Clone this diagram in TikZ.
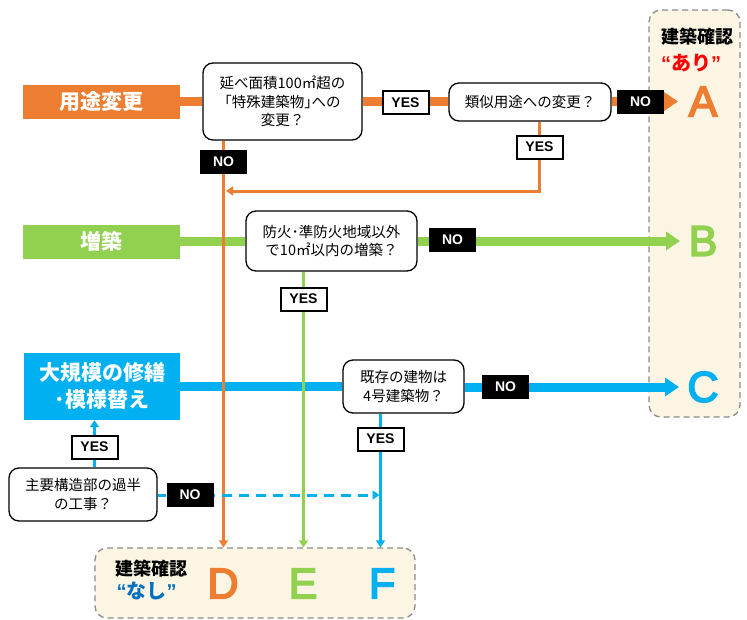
\documentclass[tikz,border=0pt]{standalone}
\usepackage{fontspec}
\setmainfont{Noto Sans CJK JP}
\newfontfamily\arial{Liberation Sans}
\newfontfamily\letfont{Liberation Sans}[FakeBold=4]
\usetikzlibrary{arrows.meta}
\definecolor{corange}{HTML}{ED7D31}
\definecolor{cgreen}{HTML}{92D050}
\definecolor{cblue}{HTML}{00B0F0}
\definecolor{cdblue}{HTML}{0070C0}
\definecolor{cream}{HTML}{FDF5E3}
\definecolor{pgray}{HTML}{8C8C8C}
\pgfdeclarelayer{panel}
\pgfdeclarelayer{hlines}
\pgfdeclarelayer{vlines}
\pgfsetlayers{panel,hlines,vlines,main}
\begin{document}
\begin{tikzpicture}[x=1pt,y=-1pt,
 lab/.style={fill=#1, text=white, font=\bfseries\fontsize{21}{27}\selectfont, align=center, inner sep=0pt},
 qbox/.style={draw=black, line width=1.3pt, rounded corners=10pt, fill=white, align=center, font=\fontsize{14.5}{18.5}\selectfont, inner sep=0pt},
 yesbox/.style={draw=black, line width=2pt, fill=white, font=\arial\bfseries\fontsize{14}{14}\selectfont, minimum width=46pt, minimum height=23pt, inner sep=0pt},
 nobox/.style={fill=black, text=white, font=\arial\bfseries\fontsize{14}{14}\selectfont, minimum width=47pt, minimum height=24pt, inner sep=0pt},
 big/.style={text=#1, font=\letfont\fontsize{43}{43}\selectfont, inner sep=0pt},
 panel/.style={draw=pgray, dash pattern=on 6pt off 4pt, fill=cream, rounded corners=12pt, line width=1.3pt},
 mainline/.style={draw=#1, line width=9pt},
 thinline/.style={draw=#1, line width=3pt},
 bigtip/.style={-{Triangle[length=14pt,width=18pt]}},
 smalltip/.style={-{Triangle[length=7pt,width=9pt]}},
 ptitle/.style={font=\bfseries\fontsize{18}{20}\selectfont, inner sep=0pt}
]
\useasboundingbox (0,0) rectangle (747,619);

% panels
\begin{pgfonlayer}{panel}
\node[panel, minimum width=91pt, minimum height=407pt] (pr) at (694.5,213.5) {};
\node[panel, minimum width=320pt, minimum height=70pt] (pb) at (255,583) {};
\end{pgfonlayer}

\node[ptitle] (t1) at (697.5,37) {建築確認};
\node[ptitle, text=red, font=\bfseries\fontsize{20}{20}\selectfont] (t2) at (691,63) {{\arial\bfseries “}あり{\arial\bfseries ”}};
\node[ptitle] (t3) at (151.5,569) {建築確認};
\node[ptitle, text=cdblue, font=\bfseries\fontsize{20}{20}\selectfont] (t4) at (146.5,591) {{\arial\bfseries “}なし{\arial\bfseries ”}};

% result letters
\node[big=corange] (A) at (703,101.5) {A};
\node[big=cgreen] (B) at (703,241) {B};
\node[big=cblue] (C) at (703,387) {C};
\node[big=corange] (D) at (223,583.5) {D};
\node[big=cgreen] (E) at (303,583.5) {E};
\node[big=cblue] (F) at (382,583.5) {F};

% start labels
\node[lab=corange, minimum width=157pt, minimum height=34pt] (uto) at (101.5,101.5) {用途変更};
\node[lab=cgreen, minimum width=157pt, minimum height=34pt] (zou) at (101.5,241.5) {増築};
\node[lab=cblue, minimum width=156pt, minimum height=67pt] (dai) at (102,386.5) {大規模の修繕\\･模様替え};

% questions
\node[qbox, minimum width=159pt, minimum height=77pt] (q1) at (282.5,101.5) {延べ面積100㎡超の\\｢特殊建築物｣への\\変更？};
\node[qbox, minimum width=162pt, minimum height=38pt] (q2) at (530,102) {類似用途への変更？};
\node[qbox, minimum width=171pt, minimum height=60pt] (q3) at (331.5,241) {防火･準防火地域以外\\で10㎡以内の増築？};
\node[qbox, minimum width=121pt, minimum height=53pt] (q4) at (403.5,386.5) {既存の建物は\\4号建築物？};
\node[qbox, minimum width=148pt, minimum height=53pt] (q5) at (83,494.5) {主要構造部の過半\\の工事？};

% yes / no labels
\node[yesbox] (y1) at (405.5,102.5) {YES};
\node[nobox] (n2) at (640.5,101.5) {NO};
\node[yesbox] (y2) at (539.5,147) {YES};
\node[nobox] (n1) at (223.5,161.5) {NO};
\node[nobox] (n3) at (452.5,240) {NO};
\node[yesbox] (y3) at (303.5,299) {YES};
\node[nobox] (n4) at (505.5,387) {NO};
\node[yesbox] (y4) at (380.5,439) {YES};
\node[yesbox] (y5) at (94.5,447) {YES};
\node[nobox] (n5) at (190,495) {NO};

\coordinate (m1) at (226,191);
\coordinate (ta) at (678,101.5);
\coordinate (tb) at (680,241);
\coordinate (tc) at (679,387);
\coordinate (tf) at (379.5,495);

% thick horizontal lines
\begin{pgfonlayer}{hlines}
\draw[mainline=corange] (uto.east) -- (uto.east -| q1.west);
\draw[mainline=corange] (q1.east) -- (q1.east -| q2.west);
\draw[mainline=corange, bigtip] (q2.east |- ta) -- (ta);
\draw[mainline=cgreen] (zou.east) -- (zou.east -| q3.west);
\draw[mainline=cgreen, bigtip] (q3.east |- tb) -- (tb);
\draw[mainline=cblue] (dai.east) -- (dai.east -| q4.west);
\draw[mainline=cblue, bigtip] (q4.east |- tc) -- (tc);
\end{pgfonlayer}

% thin vertical lines
\begin{pgfonlayer}{vlines}
\draw[thinline=corange, smalltip] (n1 |- q1.south) -- (n1 |- pb.north);
\draw[thinline=corange, smalltip] (y2 |- q2.south) -- (y2 |- m1) -- (m1);
\draw[thinline=cgreen, smalltip] (y3 |- q3.south) -- (y3 |- pb.north);
\draw[thinline=cblue, smalltip] (y4 |- q4.south) -- (y4 |- pb.north);
\draw[thinline=cblue, smalltip] (y5 |- q5.north) -- (y5 |- dai.south);
\draw[thinline=cblue] (q5.east |- n5) -- (n5.west);
\draw[thinline=cblue, dash pattern=on 10pt off 7pt, dash phase=-8pt, smalltip] (n5.east) -- (tf);
\end{pgfonlayer}
\end{tikzpicture}
\end{document}
